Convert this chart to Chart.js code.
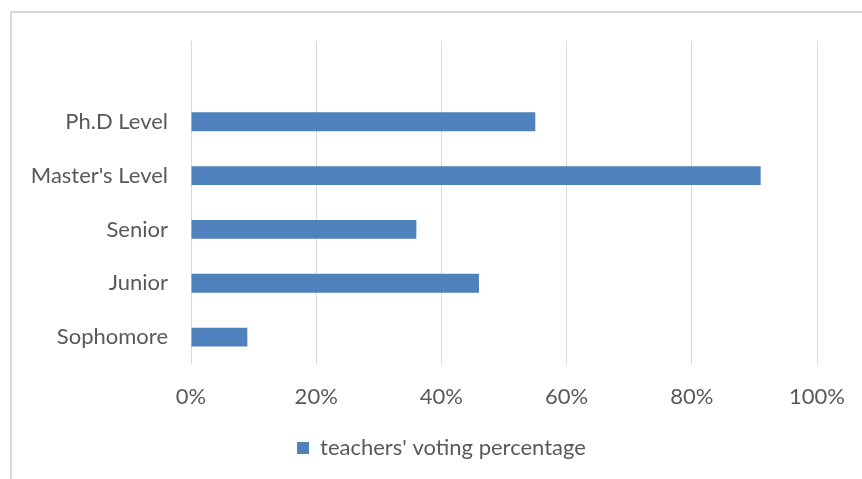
<!DOCTYPE html>
<html>
<head>
<meta charset="utf-8">
<script src="https://cdn.jsdelivr.net/npm/chart.js@4"></script>
<style>
html,body{margin:0;padding:0;background:#fff;overflow:hidden;}
#wrap{position:relative;width:862px;height:479px;}
#frame{position:absolute;left:10px;top:11px;width:900px;height:500px;border-left:2px solid #d9d9d9;border-top:2px solid #d9d9d9;box-sizing:border-box;}
canvas{position:absolute;left:0;top:0;}
</style>
</head>
<body>
<div id="wrap">
<div id="frame"></div>
<canvas id="c" width="862" height="479"></canvas>
</div>
<script>
const categories = ['', 'Ph.D Level', "Master's Level", 'Senior', 'Junior', 'Sophomore'];
const votingPercentage = [null, 55, 91, 36, 46, 9];
const seriesName = "teachers' voting percentage";
const tickValues = [0, 20, 40, 60, 80, 100];

const FONT = 'Lato, "Open Sans", sans-serif';
const TXT = '#595959';

const legendShift = {
  id: 'legendShift',
  afterLayout(chart) {
    if (chart.legend) { chart.legend.left += 33; chart.legend.right += 33; }
  }
};

new Chart(document.getElementById('c'), {
  type: 'bar',
  data: {
    labels: categories,
    datasets: [{
      label: seriesName,
      data: votingPercentage,
      backgroundColor: '#4f81bd',
      borderWidth: 0,
      categoryPercentage: 1,
      barPercentage: 0.35
    }]
  },
  plugins: [legendShift],
  options: {
    indexAxis: 'y',
    responsive: false,
    animation: false,
    devicePixelRatio: 1,
    layout: { padding: { top: 41, right: 45, left: 0, bottom: 10 } },
    plugins: {
      tooltip: { enabled: false },
      legend: {
        position: 'bottom',
        labels: {
          boxWidth: 12, boxHeight: 12, color: TXT,
          font: { family: FONT, size: 22 }, padding: 16
        }
      }
    },
    scales: {
      x: {
        min: 0, max: 100,
        afterBuildTicks: s => { s.ticks = tickValues.map(v => ({ value: v })); },
        afterFit: s => { s.height = 57; s.paddingLeft = 0; s.paddingRight = 0; },
        grid: { color: '#d9d9d9', lineWidth: 1, drawTicks: false },
        border: { display: false },
        ticks: {
          color: TXT, padding: 20,
          font: { family: FONT, size: 22 },
          callback: v => v + '%'
        }
      },
      y: {
        afterFit: s => { s.width = 191; },
        grid: { display: false, drawTicks: false },
        border: { display: false },
        ticks: {
          color: TXT, padding: 23,
          font: { family: FONT, size: 22 }
        }
      }
    }
  }
});
</script>
</body>
</html>
